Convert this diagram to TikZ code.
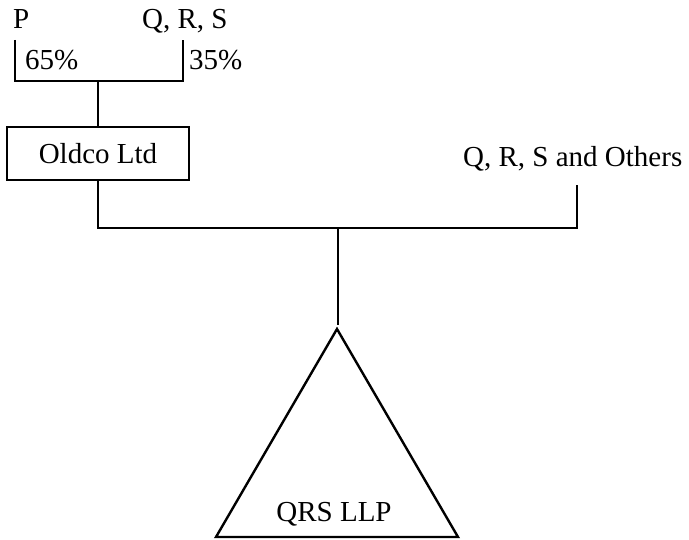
\documentclass[tikz,border=0pt]{standalone}
\usepackage{fontspec}
\setmainfont{Liberation Serif}

\begin{document}
\begin{tikzpicture}[
    x=1pt, y=-1pt,
    every node/.style={font=\fontsize{29}{34}\selectfont, inner sep=0pt},
    link/.style={line width=2.4pt},
    label text/.style={anchor=base west},
    company box/.style={draw, line width=2.4pt, minimum width=182pt, minimum height=53pt}
]
    \useasboundingbox (0,0) rectangle (689,540);

    % Shareholders of Oldco
    \node[label text] (P) at (13,29) {P};
    \node[label text] (QRS) at (142,29) {Q, R, S};
    \node[label text] (pct65) at (25,70) {65\%};
    \node[label text] (pct35) at (189,70) {35\%};

    % Oldco
    \node[company box] (oldco) at (98,153.5) {Oldco Ltd};

    % Other members
    \node[label text] (others) at (463,167) {Q, R, S and Others};

    % Branch points
    \coordinate (Pend) at (15,40);
    \coordinate (Pcorner) at (15,81);
    \coordinate (QRSend) at (183,40);
    \coordinate (QRScorner) at (183,81);
    \coordinate (join1) at (98,81);
    \coordinate (join2) at (98,228);
    \coordinate (othersend) at (577,185);
    \coordinate (otherscorner) at (577,228);
    \coordinate (join3) at (338,228);
    \coordinate (join3end) at (338,325);

    % Triangle corners
    \coordinate (apex) at (337,329);
    \coordinate (left) at (216,537);
    \coordinate (right) at (458,537);

    % Ownership lines
    \draw[link] (Pend) -- (Pcorner) -- (QRScorner) -- (QRSend);
    \draw[link] (join1) -- (oldco.north);
    \draw[link] (oldco.south) -- (join2) -- (otherscorner) -- (othersend);
    \draw[link] (join3) -- (join3end);

    % The LLP
    \draw[link, line join=miter] (apex) -- (left) -- (right) -- cycle;
    \node[anchor=base] (llp) at (334,521) {QRS LLP};
\end{tikzpicture}
\end{document}
